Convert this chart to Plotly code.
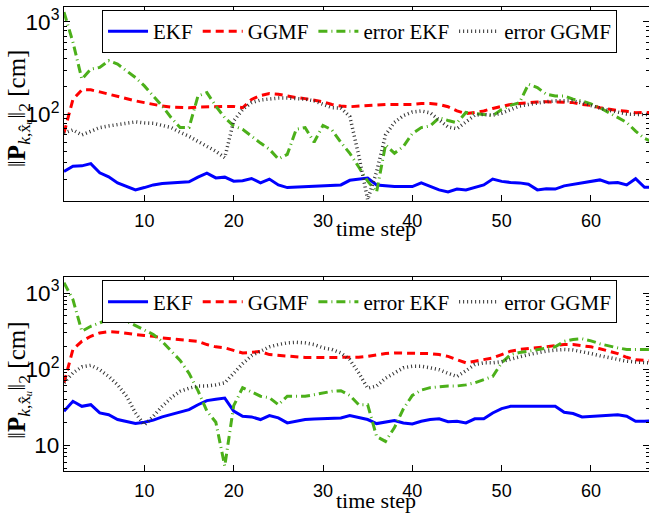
import plotly.graph_objects as go

steps = list(range(1, 68))

# ---- top panel ----
top_ekf = [24.2, 27.5, 27.8, 29.4, 23.4, 21.2, 18.2, 16.6, 15.3, 16.2,
           17.3, 17.9, 18.2, 18.4, 18.7, 21.0, 23.2, 20.6, 21.0, 19.0,
           19.2, 20.3, 18.2, 20.0, 17.3, 16.2, 16.4, 16.6, 16.9, 17.1,
           17.3, 17.3, 19.4, 20.0, 20.5, 17.3, 16.9, 16.6, 16.6, 16.6,
           18.2, 16.6, 15.3, 14.5, 15.6, 15.3, 16.3, 17.3, 20.0, 18.9,
           18.4, 18.2, 17.6, 15.3, 15.7, 15.6, 16.9, 17.6, 18.2, 18.9,
           19.6, 18.2, 18.4, 17.3, 20.2, 16.3, 16.3]
top_ggmf = [63, 145, 184, 184, 175, 165, 156, 146, 140, 134,
            128, 123, 120, 118, 118, 120, 121, 122, 122, 122,
            118, 145, 160, 168, 165, 158, 152, 148, 142, 137,
            128, 123, 121, 123, 125, 128, 128, 128, 128, 128,
            131, 131, 128, 121, 109, 102, 105, 109, 116, 123,
            128, 131, 134, 136, 137, 136, 136, 134, 128, 125,
            118, 113, 110, 108, 104, 105, 104]
top_err_ekf = [1273, 603, 240, 308, 322, 380, 349, 296, 250, 203,
               158, 123, 92, 72, 72, 158, 172, 123, 92, 75,
               69, 58, 49, 42, 33, 37, 69, 72, 50, 76,
               68, 50, 38, 27, 19, 14.5, 47, 38, 45, 62,
               72, 75, 92, 86, 81, 105, 103, 100, 97, 113,
               125, 134, 212, 195, 165, 158, 158, 146, 140, 130,
               118, 105, 93, 82, 66, 55, 50]
top_err_ggmf = [63, 68, 60, 66, 72, 75, 78, 81, 83, 81,
                80, 76, 72, 64, 58, 51, 45, 40, 34, 85,
                113, 134, 143, 148, 150, 150, 148, 146, 140, 128,
                118, 117, 95, 36, 12, 24, 60, 82, 97, 106,
                109, 104, 88, 73, 70, 84, 98, 100, 98, 103,
                113, 123, 128, 133, 137, 140, 140, 140, 133, 124,
                117, 111, 106, 101, 100, 100, 100]

# ---- bottom panel ----
bot_ekf = [27.9, 37.7, 32.4, 34.0, 26.5, 25.1, 21.7, 20.6, 19.2, 20.0,
           21.3, 23.5, 25.1, 27.3, 29.3, 34.0, 38.5, 40.0, 41.5, 28.0,
           24.0, 23.5, 21.7, 24.5, 22.8, 19.6, 20.6, 21.7, 22.0, 22.3,
           22.8, 22.8, 24.5, 22.8, 21.7, 19.2, 20.3, 21.0, 19.6, 19.0,
           20.6, 21.7, 22.2, 20.3, 20.6, 19.6, 22.2, 22.2, 26.5, 30.2,
           32.4, 32.4, 32.4, 32.4, 32.4, 32.4, 27.0, 26.0, 23.5, 24.0,
           24.5, 25.0, 25.0, 24.0, 20.6, 20.6, 21.0]
bot_ggmf = [66, 181, 232, 270, 299, 310, 306, 293, 285, 277,
            270, 257, 250, 244, 237, 232, 210, 196, 190, 176,
            163, 166, 170, 155, 152, 147, 143, 142, 142, 142,
            143, 143, 142, 143, 147, 155, 160, 163, 163, 163,
            163, 160, 155, 147, 133, 121, 127, 133, 140, 155,
            172, 181, 185, 190, 196, 204, 210, 210, 204, 196,
            185, 172, 160, 143, 133, 130, 128]
bot_err_ekf = [1362, 820, 314, 365, 405, 458, 487, 426, 365, 324,
               285, 230, 175, 130, 88, 52, 28, 20, 5.3, 33,
               57, 50, 44, 42, 34, 44, 44, 44, 46, 48,
               51, 52, 45, 34, 34, 13, 11.2, 17, 30, 45,
               53, 57, 59, 60, 60, 62, 66, 72, 80, 121,
               155, 165, 172, 180, 185, 196, 232, 245, 250, 235,
               215, 200, 190, 181, 181, 181, 181]
bot_err_ggmf = [66, 89, 107, 112, 98, 80, 62, 44, 26.5, 18.4,
                24, 32.4, 42, 51, 56, 60, 60, 62, 66, 89,
                118, 150, 172, 196, 210, 221, 225, 221, 210, 190,
                181, 163, 133, 89, 56, 60, 76, 90, 104, 109,
                109, 104, 98, 88, 80, 95, 115, 121, 121, 125,
                133, 145, 155, 165, 172, 178, 181, 178, 170, 160,
                150, 142, 134, 127, 124, 121, 120]

names = ["EKF", "GGMF", "error EKF", "error GGMF"]
colors = ["#0000ff", "#ff0000", "#4cb01a", "#333333"]
dashes = ["solid", "8px,5px", "9px,4px,1px,4px", "1px,3px"]
widths = [3, 3, 3, 3.5]

SERIF = "Liberation Serif"
SANS = "Liberation Sans"

fig = go.Figure()
panels = [
    ([top_ekf, top_ggmf, top_err_ekf, top_err_ggmf], "x", "y", "legend"),
    ([bot_ekf, bot_ggmf, bot_err_ekf, bot_err_ggmf], "x2", "y2", "legend2"),
]
for series, xa, ya, lg in panels:
    for vals, nm, c, d, w in zip(series, names, colors, dashes, widths):
        fig.add_trace(go.Scatter(
            x=steps, y=vals, name=nm, mode="lines",
            line=dict(color=c, dash=d, width=w),
            xaxis=xa, yaxis=ya, legend=lg, showlegend=True))

xcommon = dict(range=[1, 66.5], dtick=10, tick0=0, ticks="inside", ticklen=6,
               tickcolor="black", showline=True, linecolor="black", linewidth=1,
               mirror="ticks", showgrid=False, zeroline=False, automargin=False,
               ticklabelstandoff=3,
               tickfont=dict(family=SANS, size=18, color="black"))
ycommon = dict(type="log", dtick=1, exponentformat="power", ticks="inside",
               ticklen=6, tickcolor="black", showline=True, linecolor="black",
               linewidth=1, mirror="ticks", showgrid=False, zeroline=False,
               automargin=False,
               tickfont=dict(family=SANS, size=18, color="black"),
               minor=dict(ticks="inside", ticklen=3, tickcolor="black",
                          showgrid=False))

legcommon = dict(orientation="h", xanchor="left", yanchor="top",
                 bgcolor="white", bordercolor="black", borderwidth=1,
                 font=dict(family=SERIF, size=21, color="black"),
                 itemwidth=40, tracegroupgap=0)

ylab = "‖<b>P</b><sub><i>k</i>,x̂<i>ᵤ</i></sub>‖<sub>2</sub> [cm]"

fig.update_layout(
    width=649, height=515,
    margin=dict(l=64, r=0, t=7, b=44, autoexpand=False),
    plot_bgcolor="white", paper_bgcolor="white",
    xaxis=dict(domain=[0, 1], anchor="y", **xcommon),
    yaxis=dict(domain=[0.582, 1], anchor="x", range=[1.065, 3.16], **ycommon),
    xaxis2=dict(domain=[0, 1], anchor="y2", **xcommon),
    yaxis2=dict(domain=[0, 0.418], anchor="x2", range=[0.66, 3.21], **ycommon),
    legend=dict(x=0.065, y=0.9935, **legcommon),
    legend2=dict(x=0.065, y=0.4106, **legcommon),
    annotations=[
        dict(text="time step", xref="paper", yref="paper", x=0.533, y=0.5216,
             showarrow=False, font=dict(family=SERIF, size=22, color="black"),
             xanchor="center", yanchor="middle"),
        dict(text="time step", xref="paper", yref="paper", x=0.533, y=-0.0625,
             showarrow=False, font=dict(family=SERIF, size=22, color="black"),
             xanchor="center", yanchor="middle"),
        dict(text=ylab, xref="paper", yref="paper", x=-0.0786, y=0.782,
             textangle=-90, showarrow=False,
             font=dict(family=SERIF, size=25, color="black"),
             xanchor="center", yanchor="middle"),
        dict(text=ylab, xref="paper", yref="paper", x=-0.0786, y=0.196,
             textangle=-90, showarrow=False,
             font=dict(family=SERIF, size=25, color="black"),
             xanchor="center", yanchor="middle"),
    ],
)

fig.write_html("out.html", config={"displayModeBar": False},
               post_script="document.body.style.margin='0';"
                           "document.body.style.overflow='hidden';")
